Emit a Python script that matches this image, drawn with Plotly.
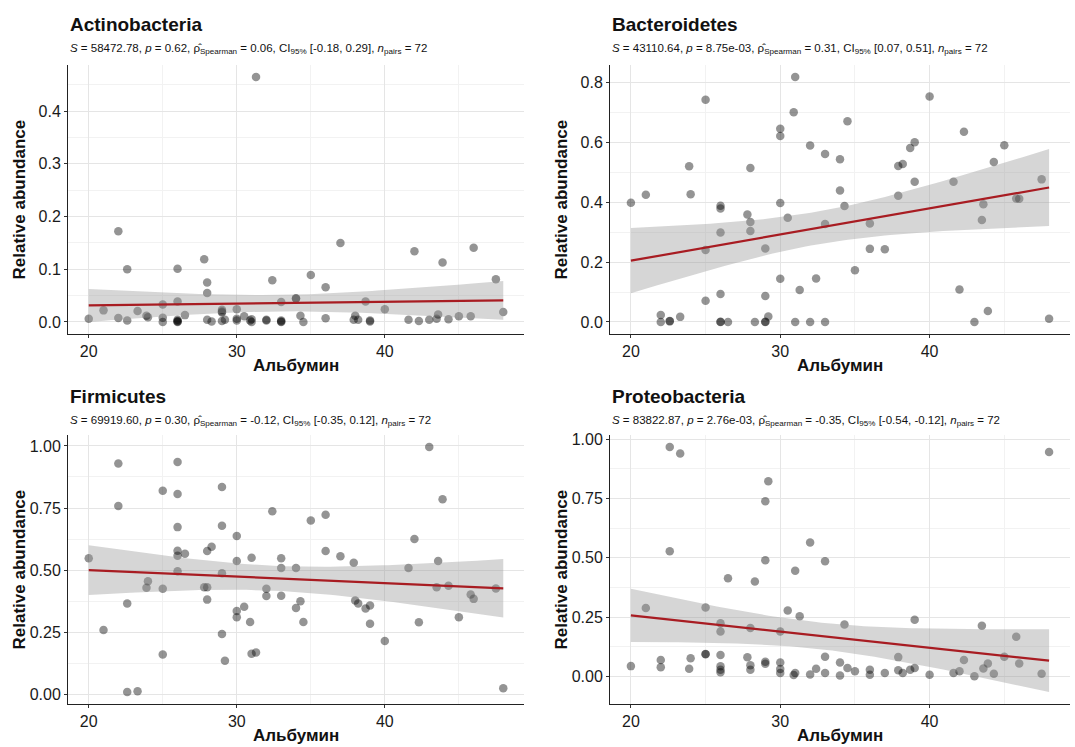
import numpy as np
import plotly.graph_objects as go

# ---------------- data ----------------
actino_x = [31.3, 22.0, 22.6, 26.0, 27.8, 28.0, 28.0, 37.0, 42.0, 46.0,
            43.9, 35.0, 32.4, 36.0, 47.5, 34.0, 34.0, 33.0, 38.7, 26.0,
            25.0, 40.0, 30.0, 29.0, 29.0, 29.0, 21.0, 23.3, 48.0, 20.0,
            22.0, 22.6, 23.9, 24.0, 25.0, 25.0, 26.0, 26.0, 26.0, 26.0,
            26.5, 28.0, 28.3, 29.0, 29.2, 30.0, 30.0, 30.5, 30.9, 31.0,
            31.0, 32.0, 32.0, 33.0, 33.0, 33.0, 34.3, 34.5, 36.0, 37.9,
            38.0, 38.2, 39.0, 39.0, 41.6, 42.3, 43.0, 43.5, 43.6, 44.3,
            45.0, 45.8]
actino_y = [0.465, 0.172, 0.100, 0.101, 0.119, 0.075, 0.055, 0.150, 0.134, 0.141,
            0.113, 0.089, 0.079, 0.066, 0.081, 0.045, 0.044, 0.038, 0.039, 0.039,
            0.033, 0.024, 0.024, 0.023, 0.018, 0.020, 0.022, 0.021, 0.019, 0.006,
            0.0075, 0.003, 0.012, 0.009, 0.008, 0.000, 0.004, 0.001, 0.000, 0.002,
            0.013, 0.004, 0.001, 0.002, 0.004, 0.006, 0.003, 0.011, 0.003, 0.005,
            0.000, 0.004, 0.003, 0.003, 0.001, 0.000, 0.012, 0.000, 0.007, 0.004,
            0.012, 0.004, 0.003, 0.001, 0.004, 0.002, 0.004, 0.006, 0.014, 0.005,
            0.011, 0.011]

bact_x = [31.0, 25.0, 40.0, 30.9, 30.0, 30.0, 34.5, 42.3, 32.0, 33.0,
          34.0, 39.0, 38.7, 45.0, 23.9, 28.0, 37.9, 38.2, 44.3, 39.0,
          41.6, 47.5, 34.0, 20.0, 21.0, 24.0, 26.0, 26.0, 30.0, 34.3,
          37.9, 43.6, 45.8, 46.0, 30.5, 27.8, 28.0, 28.0, 33.0, 36.0,
          43.5, 26.0, 25.0, 29.0, 36.0, 37.0, 35.0, 30.0, 32.4, 31.3,
          42.0, 25.0, 26.0, 29.0, 43.9, 48.0, 22.0, 22.0, 22.6, 22.6,
          23.3, 26.0, 26.0, 26.5, 28.3, 29.0, 29.0, 29.2, 31.0, 32.0,
          33.0, 43.0]
bact_y = [0.818, 0.742, 0.753, 0.700, 0.645, 0.621, 0.670, 0.635, 0.589, 0.561,
          0.543, 0.600, 0.581, 0.590, 0.520, 0.514, 0.521, 0.527, 0.534, 0.468,
          0.468, 0.476, 0.439, 0.398, 0.425, 0.426, 0.388, 0.379, 0.397, 0.387,
          0.421, 0.393, 0.412, 0.411, 0.348, 0.359, 0.334, 0.304, 0.327, 0.329,
          0.340, 0.299, 0.240, 0.245, 0.244, 0.243, 0.173, 0.144, 0.145, 0.107,
          0.108, 0.071, 0.093, 0.087, 0.037, 0.011, 0.023, 0.000, 0.003, 0.002,
          0.017, 0.000, 0.001, 0.000, 0.000, 0.000, 0.001, 0.018, 0.000, 0.000,
          0.000, 0.000]

firm_x = [43.0, 22.0, 26.0, 25.0, 26.0, 29.0, 22.0, 43.9, 32.4, 35.0,
          36.0, 26.0, 29.0, 30.0, 42.0, 26.0, 26.0, 26.5, 28.0, 28.3,
          20.0, 26.0, 30.0, 31.0, 33.0, 33.0, 34.0, 36.0, 37.0, 37.9,
          41.6, 43.6, 29.0, 24.0, 23.9, 25.0, 27.8, 28.0, 28.0, 32.0,
          32.0, 33.0, 34.3, 34.0, 38.0, 38.2, 38.7, 39.0, 39.0, 43.5,
          44.3, 45.8, 46.0, 47.5, 22.6, 21.0, 30.0, 30.0, 30.5, 30.9,
          34.5, 42.3, 45.0, 40.0, 29.0, 29.2, 25.0, 31.0, 31.3, 22.6,
          23.3, 48.0]
firm_y = [0.996, 0.929, 0.935, 0.820, 0.806, 0.835, 0.758, 0.785, 0.737, 0.700,
          0.723, 0.673, 0.679, 0.637, 0.625, 0.578, 0.558, 0.566, 0.577, 0.594,
          0.548, 0.495, 0.537, 0.550, 0.548, 0.508, 0.508, 0.577, 0.556, 0.530,
          0.508, 0.537, 0.487, 0.455, 0.429, 0.425, 0.431, 0.431, 0.381, 0.425,
          0.396, 0.397, 0.374, 0.347, 0.377, 0.365, 0.345, 0.357, 0.284, 0.431,
          0.437, 0.402, 0.384, 0.426, 0.365, 0.259, 0.335, 0.310, 0.352, 0.291,
          0.291, 0.290, 0.310, 0.214, 0.243, 0.135, 0.160, 0.163, 0.168, 0.009,
          0.012, 0.024]

prot_x = [22.6, 23.3, 48.0, 29.2, 29.0, 32.0, 22.6, 29.0, 33.0, 26.5,
          31.0, 28.3, 21.0, 25.0, 30.5, 31.3, 39.0, 26.0, 34.3, 43.5,
          26.0, 28.0, 30.0, 45.8, 20.0, 22.0, 22.0, 24.0, 23.9, 25.0,
          25.0, 26.0, 26.0, 26.0, 26.0, 27.8, 28.0, 28.0, 29.0, 29.0,
          30.0, 30.0, 30.0, 30.9, 31.0, 32.0, 32.4, 33.0, 33.0, 34.0,
          34.0, 34.5, 35.0, 36.0, 36.0, 37.0, 37.9, 37.9, 38.2, 38.7,
          39.0, 40.0, 41.6, 42.0, 42.3, 43.0, 43.6, 43.9, 44.3, 45.0,
          46.0, 47.5]
prot_y = [0.968, 0.940, 0.947, 0.823, 0.739, 0.565, 0.528, 0.490, 0.486, 0.414,
          0.446, 0.400, 0.288, 0.290, 0.278, 0.254, 0.239, 0.224, 0.219, 0.213,
          0.189, 0.204, 0.189, 0.167, 0.043, 0.069, 0.038, 0.076, 0.032, 0.094,
          0.093, 0.090, 0.042, 0.028, 0.017, 0.080, 0.047, 0.028, 0.061, 0.053,
          0.058, 0.031, 0.014, 0.006, 0.014, 0.008, 0.032, 0.083, 0.014, 0.058,
          0.003, 0.035, 0.021, 0.028, 0.007, 0.014, 0.081, 0.026, 0.014, 0.028,
          0.035, 0.007, 0.014, 0.021, 0.069, 0.000, 0.033, 0.054, 0.011, 0.083,
          0.054, 0.011]

titles = ["Actinobacteria", "Bacteroidetes", "Firmicutes", "Proteobacteria"]
subtitles = [
    "<i>S</i> = 58472.78, <i>p</i> = 0.62, \u03c1\u0302<sub>Spearman</sub> = 0.06, CI<sub>95%</sub> [-0.18, 0.29], <i>n</i><sub>pairs</sub> = 72",
    "<i>S</i> = 43110.64, <i>p</i> = 8.75e-03, \u03c1\u0302<sub>Spearman</sub> = 0.31, CI<sub>95%</sub> [0.07, 0.51], <i>n</i><sub>pairs</sub> = 72",
    "<i>S</i> = 69919.60, <i>p</i> = 0.30, \u03c1\u0302<sub>Spearman</sub> = -0.12, CI<sub>95%</sub> [-0.35, 0.12], <i>n</i><sub>pairs</sub> = 72",
    "<i>S</i> = 83822.87, <i>p</i> = 2.76e-03, \u03c1\u0302<sub>Spearman</sub> = -0.35, CI<sub>95%</sub> [-0.54, -0.12], <i>n</i><sub>pairs</sub> = 72",
]
x_label = "Альбумин"
y_label = "Relative abundance"
y_dticks = [0.1, 0.2, 0.25, 0.25]
y_formats = [".1f", ".1f", ".2f", ".2f"]
x_dtick = 10

series = [(actino_x, actino_y), (bact_x, bact_y), (firm_x, firm_y), (prot_x, prot_y)]

# ---------------- layout geometry (pixels) ----------------
W, H = 1075, 747
FONT = "Liberation Sans, Arial, sans-serif"
# plot areas: left, right, top, bottom in px
boxes = [(68, 524, 61, 332), (610, 1070, 61, 332),
         (68, 524, 433, 704), (610, 1070, 433, 704)]
title_y = [21, 21, 395, 395]
sub_y = [45, 45, 419, 419]

def px(x):
    return x / W

def py(y):
    return 1 - y / H

T_CRIT = 1.994  # t(0.975, df = 70)

fig = go.Figure()
for i, (xs, ys) in enumerate(series):
    xs = np.asarray(xs, float)
    ys = np.asarray(ys, float)
    n = len(xs)
    b1, b0 = np.polyfit(xs, ys, 1)
    resid = ys - (b0 + b1 * xs)
    s = np.sqrt(np.sum(resid ** 2) / (n - 2))
    xbar = xs.mean()
    sxx = np.sum((xs - xbar) ** 2)
    grid = np.linspace(xs.min(), xs.max(), 80)
    fit = b0 + b1 * grid
    se = s * np.sqrt(1 / n + (grid - xbar) ** 2 / sxx)
    lo, hi = fit - T_CRIT * se, fit + T_CRIT * se

    sfx = "" if i == 0 else str(i + 1)
    xa, ya = "x" + sfx, "y" + sfx

    fig.add_trace(go.Scatter(x=xs, y=ys, mode="markers", xaxis=xa, yaxis=ya,
                             marker=dict(size=8.5, color="rgba(0,0,0,0.42)", line=dict(width=0)),
                             showlegend=False, hoverinfo="skip"))
    fig.add_trace(go.Scatter(x=np.concatenate([grid, grid[::-1]]),
                             y=np.concatenate([hi, lo[::-1]]),
                             mode="lines", fill="toself", xaxis=xa, yaxis=ya,
                             fillcolor="rgba(153,153,153,0.4)", line=dict(width=0),
                             showlegend=False, hoverinfo="skip"))
    fig.add_trace(go.Scatter(x=grid, y=fit, mode="lines", xaxis=xa, yaxis=ya,
                             line=dict(color="#A81C22", width=2.2),
                             showlegend=False, hoverinfo="skip"))

    # ggplot-like 5% expansion
    xr = xs.max() - xs.min()
    ymin = min(ys.min(), lo.min())
    ymax = max(ys.max(), hi.max())
    yr = ymax - ymin
    l, r, t, b = boxes[i]
    common = dict(showline=True, linecolor="#222222", linewidth=1, mirror=False,
                  ticks="outside", ticklen=3, tickwidth=1, tickcolor="#333333",
                  showgrid=True, gridcolor="#E5E5E5", gridwidth=1, zeroline=False,
                  tickfont=dict(family=FONT, size=16, color="#1a1a1a"))
    fig.update_layout(**{
        ("xaxis" + sfx): dict(common, domain=[px(l), px(r)], anchor=ya,
                              range=[xs.min() - 0.05 * xr, xs.max() + 0.05 * xr],
                              dtick=x_dtick, tick0=0,
                              minor=dict(dtick=x_dtick / 2, showgrid=True, gridcolor="#F2F2F2", gridwidth=0.8)),
        ("yaxis" + sfx): dict(common, domain=[py(b), py(t)], anchor=xa,
                              range=[ymin - 0.05 * yr, ymax + 0.05 * yr],
                              dtick=y_dticks[i], tick0=0, tickformat=y_formats[i],
                              minor=dict(dtick=y_dticks[i] / 2, showgrid=True, gridcolor="#F2F2F2", gridwidth=0.8)),
    })

    # titles and axis titles
    fig.add_annotation(x=px(l), y=py(title_y[i]), xref="paper", yref="paper",
                       text="<b>%s</b>" % titles[i], showarrow=False,
                       xanchor="left", yanchor="middle",
                       font=dict(family=FONT, size=19, color="#111111"))
    fig.add_annotation(x=px(l), y=py(sub_y[i]), xref="paper", yref="paper",
                       text=subtitles[i], showarrow=False,
                       xanchor="left", yanchor="middle",
                       font=dict(family=FONT, size=11.5, color="#111111"))
    fig.add_annotation(x=px((l + r) / 2), y=py(b + 31), xref="paper", yref="paper",
                       text="<b>%s</b>" % x_label, showarrow=False,
                       xanchor="center", yanchor="middle",
                       font=dict(family=FONT, size=17, color="#111111"))
    fig.add_annotation(x=px(l - 49), y=py((t + b) / 2), xref="paper", yref="paper",
                       text="<b>%s</b>" % y_label, showarrow=False, textangle=-90,
                       xanchor="center", yanchor="middle",
                       font=dict(family=FONT, size=17, color="#111111"))

fig.update_layout(width=W, height=H, margin=dict(l=0, r=0, t=0, b=0),
                  paper_bgcolor="white", plot_bgcolor="white",
                  font=dict(family=FONT))
fig.write_html("out.html", config={"displayModeBar": False},
               post_script="document.body.style.margin='0';document.body.style.overflow='hidden';")
